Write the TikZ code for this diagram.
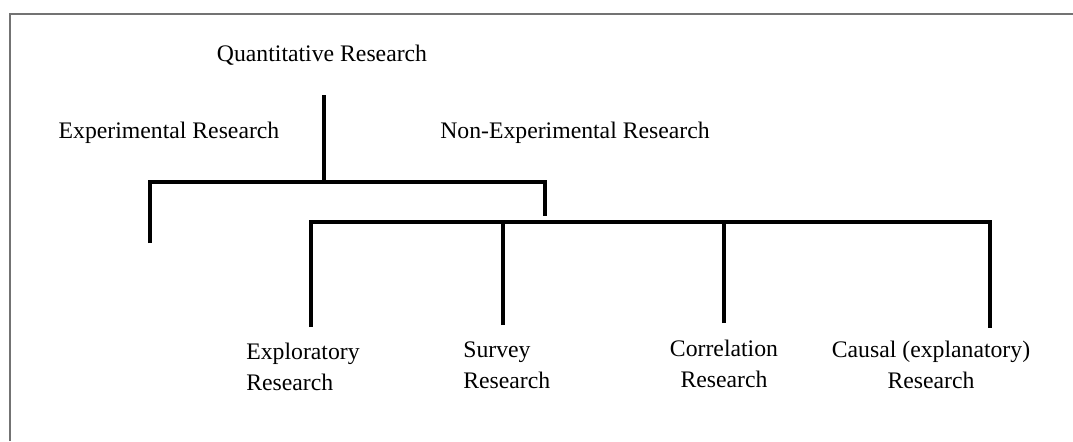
\documentclass[tikz,border=0pt]{standalone}
\usepackage{fontspec}
\setmainfont{Liberation Serif}
\usepackage{tikz}
\tikzset{
    branch/.style={line width=2.3pt},
    term/.style={font=\fontsize{13.5}{17.6}\selectfont, inner sep=0pt, align=center},
    frame/.style={draw=black!55, line width=1.1pt}}

\begin{document}
\begin{tikzpicture}[x=0.02cm, y=-0.02cm]
    \useasboundingbox (0,0) rectangle (1073,441);
    \draw[frame] (10,441) -- (10,14) -- (1073,14);
    % labels
    \node[term] (quant) at (322,55) {Quantitative Research};
    \node[term] (exper) at (169,133) {Experimental Research};
    \node[term] (nonexp) at (575,133) {Non-Experimental Research};
    \node[term, anchor=west, align=left] (explor) at (246,367) {Exploratory\\Research};
    \node[term, anchor=west, align=left] (survey) at (463,365) {Survey\\Research};
    \node[term] (correl) at (724,364) {Correlation\\Research};
    \node[term] (causal) at (931,365) {Causal (explanatory)\\Research};
    % tree
    \coordinate (stem) at (324,95);
    \coordinate (split) at (324,182);
    \coordinate (exper-end) at (150,243);
    \coordinate (nonexp-end) at (545,216);
    \coordinate (rail) at (0,222);
    \foreach \name/\x/\y in {explor/311/327, survey/503/325, correl/724/323, causal/990/328}
      \coordinate (\name-end) at (\x,\y);
    \draw[branch] (stem) -- (split);
    \draw[branch] (exper-end) |- (split) -| (nonexp-end);
    \draw[branch] (explor-end) |- (rail -| causal-end) -- (causal-end);
    \foreach \name in {survey, correl}
      \draw[branch] (\name-end) -- (\name-end |- rail);
\end{tikzpicture}
\end{document}
